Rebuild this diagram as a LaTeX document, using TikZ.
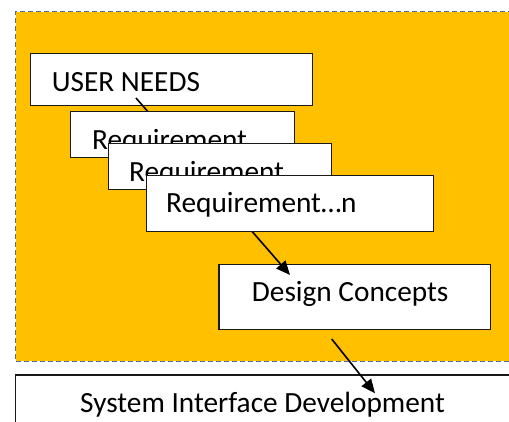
\documentclass[tikz,border=0pt]{standalone}
\usepackage{fontspec}
\setmainfont{Carlito}
\usetikzlibrary{arrows.meta}
\definecolor{gold}{HTML}{FFC000}
\definecolor{dashblue}{HTML}{4F6D95}
\tikzset{
  box/.style={draw=black!90, line width=1.2pt, fill=white, inner sep=0pt, anchor=north west},
  lbl/.style={inner sep=0pt, anchor=base west, font=\fontsize{29.3}{34}\selectfont},
  conn/.style={line width=1.6pt, -{Triangle[length=14pt,width=12pt]}},
}
\begin{document}
\begin{tikzpicture}[x=1pt,y=-1pt]
\useasboundingbox (0,0) rectangle (509,422);
% orange area
\node[fill=gold, draw=dashblue, dash pattern=on 5pt off 3pt, line width=1.4pt,
      minimum width=530pt, minimum height=349.7pt, inner sep=0pt, anchor=north west] (area) at (15,11) {};
% user needs
\node[box, minimum width=282pt, minimum height=52pt] (un) at (30,53) {};
\node[lbl] (unt) at (51.7,91.7) {USER NEEDS};
% design concepts
\node[box, minimum width=271.7pt, minimum height=65pt] (dc) at (218.3,264) {};
\node[lbl] (dct) at (251.7,301.7) {Design Concepts};
% long connector, hidden behind the requirement boxes
\coordinate (a1s) at (136,98);
\coordinate (a1e) at (290,275);
\draw[conn] (a1s) -- (a1e);
% requirements
\node[box, minimum width=224pt, minimum height=45.7pt] (r1) at (70,111) {};
\node[lbl] (r1t) at (92,149.5) {Requirement};
\node[box, minimum width=223pt, minimum height=45.7pt] (r2) at (108,143.3) {};
\node[lbl] (r2t) at (129,181.7) {Requirement};
\node[box, minimum width=287pt, minimum height=56pt] (rn) at (145.7,175.3) {};
\node[lbl] (rnt) at (166,212.7) {Requirement…n};
% system interface development
\node[box, minimum width=530pt, minimum height=80pt] (sid) at (15,374.3) {};
\node[lbl] (sidt) at (80,412.7) {System Interface Development};
% second connector
\coordinate (a2s) at (331.7,339);
\coordinate (a2e) at (375,393.3);
\draw[conn] (a2s) -- (a2e);
\end{tikzpicture}
\end{document}
